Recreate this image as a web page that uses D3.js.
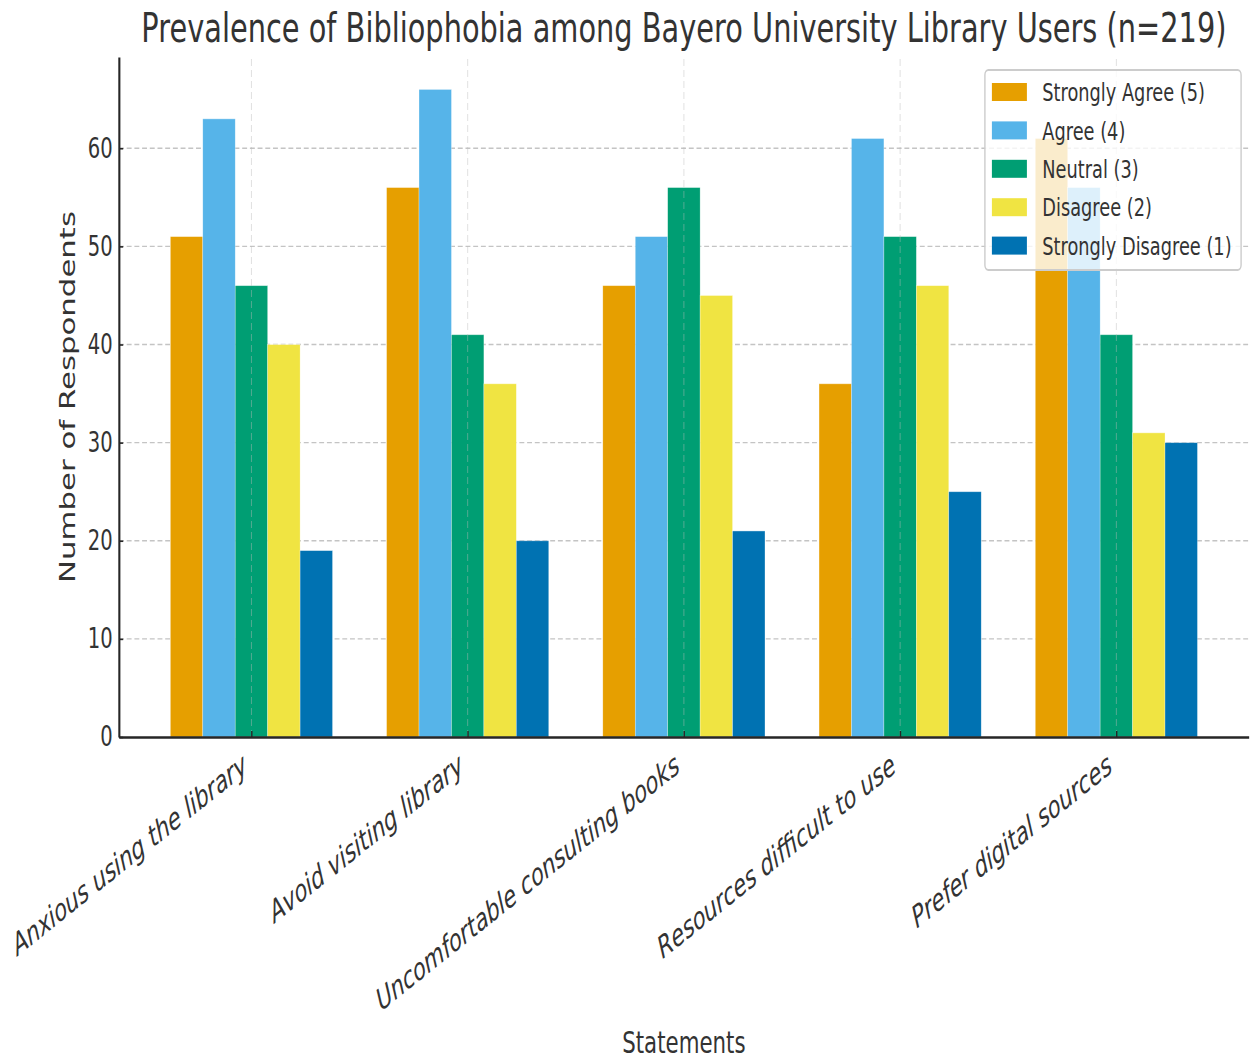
<!DOCTYPE html>
<html>
<head>
<meta charset="utf-8">
<script src="https://cdn.jsdelivr.net/npm/d3@7"></script>
<style>
  body { margin: 0; background: #fff; }
  svg { display: block; }
</style>
</head>
<body>
<div id="chart"></div>
<script>
// data
const statements = ["Anxious using the library", "Avoid visiting library", "Uncomfortable consulting books", "Resources difficult to use", "Prefer digital sources"]
const responses = ["Strongly Agree (5)", "Agree (4)", "Neutral (3)", "Disagree (2)", "Strongly Disagree (1)"]
const stronglyAgree = [51, 56, 46, 36, 61]
const agree = [63, 66, 51, 61, 56]
const neutral = [46, 41, 56, 51, 41]
const disagree = [40, 36, 45, 46, 31]
const stronglyDisagree = [19, 20, 21, 25, 30]
const yTicks = [0, 10, 20, 30, 40, 50, 60]
const colors = ["#E69F00", "#56B4E9", "#009E73", "#F0E442", "#0072B2"]

const series = [stronglyAgree, agree, neutral, disagree, stronglyDisagree]

// the reference is squeezed horizontally, so draw in a wider space and let the viewBox squash it
const width = 1251, height = 1059
const squeeze = 0.7
const innerW = width / squeeze
const margin = {top: 57, right: innerW - 1784, bottom: height - 737, left: 170}
const font = "'DejaVu Sans', sans-serif"
const textColor = "#333"

const svg = d3.select("#chart")
  .append("svg")
  .attr("width", width)
  .attr("height", height)
  .attr("viewBox", `0 0 ${innerW} ${height}`)
  .attr("preserveAspectRatio", "none")

const barW = 0.15
const xScale = d3.scaleLinear()
  .domain([-0.6125, statements.length - 1 + 0.6125])
  .range([margin.left, innerW - margin.right])
const yScale = d3.scaleLinear()
  .domain([0, 69.3])
  .range([height - margin.bottom, margin.top])

// horizontal grid (behind bars)
svg.append("g")
  .selectAll("line")
  .data(yTicks.slice(1))
  .enter()
  .append("line")
  .attr("x1", margin.left)
  .attr("x2", innerW - margin.right)
  .attr("y1", d => yScale(d))
  .attr("y2", d => yScale(d))
  .style("stroke", "#c4c4c4")
  .style("stroke-width", 1.4)
  .style("stroke-dasharray", "7,4")

// bars
series.forEach((vals, s) => {
  svg.append("g")
    .selectAll("rect")
    .data(vals)
    .enter()
    .append("rect")
    .attr("x", (d, i) => xScale(i + (s - 2.5) * barW))
    .attr("width", xScale(barW) - xScale(0))
    .attr("y", d => yScale(d))
    .attr("height", d => yScale(0) - yScale(d))
    .style("fill", colors[s])
    .style("stroke", "#fff")
    .style("stroke-opacity", 0.5)
    .style("stroke-width", 0.8)
})

// vertical grid (drawn over the bars, faint)
svg.append("g")
  .selectAll("line")
  .data(statements)
  .enter()
  .append("line")
  .attr("x1", (d, i) => xScale(i))
  .attr("x2", (d, i) => xScale(i))
  .attr("y1", yScale(0))
  .attr("y2", margin.top)
  .style("stroke", "#bbb")
  .style("stroke-opacity", 0.45)
  .style("stroke-width", 1.4)
  .style("stroke-dasharray", "7,4")

// left axis
const yAxis = svg.append("g")
  .attr("transform", `translate(${margin.left},0)`)
  .call(d3.axisLeft(yScale).tickValues(yTicks).tickSizeInner(-6).tickSizeOuter(0).tickPadding(9))
yAxis.select(".domain").style("stroke", "#262626").style("stroke-width", 3)
yAxis.selectAll(".tick line").style("stroke", "#262626").style("stroke-width", 1.6)
yAxis.selectAll(".tick text")
  .style("font-family", font)
  .style("font-size", "28px")
  .style("fill", textColor)

// bottom axis
const xAxis = svg.append("g")
  .attr("transform", `translate(0,${yScale(0)})`)
  .call(d3.axisBottom(xScale).tickValues(d3.range(statements.length)).tickSizeInner(-6).tickSizeOuter(0).tickFormat(""))
xAxis.select(".domain").style("stroke", "#262626").style("stroke-width", 2.5)
xAxis.selectAll(".tick line").style("stroke", "#262626").style("stroke-width", 2)

// rotated statement labels
svg.append("g")
  .selectAll("text")
  .data(statements)
  .enter()
  .append("text")
  .attr("transform", (d, i) => `translate(${xScale(i) - 4},${yScale(0) + 34}) rotate(-29.3)`)
  .attr("text-anchor", "end")
  .style("font-family", font)
  .style("font-style", "italic")
  .style("font-size", "30.4px")
  .style("fill", textColor)
  .text(d => d)

// Chart title
svg.append("text")
  .attr("x", (margin.left + innerW - margin.right) / 2)
  .attr("y", 42)
  .attr("text-anchor", "middle")
  .style("font-family", font)
  .style("font-size", "41.2px")
  .style("fill", textColor)
  .text("Prevalence of Bibliophobia among Bayero University Library Users (n=219)")

// X label
svg.append("text")
  .attr("x", (margin.left + innerW - margin.right) / 2)
  .attr("y", 1053)
  .attr("text-anchor", "middle")
  .style("font-family", font)
  .style("font-size", "30.5px")
  .style("fill", textColor)
  .text("Statements")

// Y label
svg.append("text")
  .attr("text-anchor", "middle")
  .attr("dominant-baseline", "central")
  .attr("transform", `translate(96,${(margin.top + height - margin.bottom) / 2}) rotate(-90)`)
  .style("font-family", font)
  .style("font-size", "30.8px")
  .style("fill", textColor)
  .text("Number of Respondents")

// legend
const legend = svg.append("g")
legend.append("rect")
  .attr("x", 1407)
  .attr("y", 70)
  .attr("width", 366)
  .attr("height", 200)
  .attr("rx", 5)
  .style("fill", "#fff")
  .style("fill-opacity", 0.8)
  .style("stroke", "#ccc")
  .style("stroke-width", 2)

const rows = legend.selectAll("g.item")
  .data(responses)
  .enter()
  .append("g")
  .attr("class", "item")
  .attr("transform", (d, i) => `translate(0,${92 + i * 38.4})`)
rows.append("rect")
  .attr("x", 1417)
  .attr("y", -9)
  .attr("width", 50)
  .attr("height", 18)
  .style("fill", (d, i) => colors[i])
rows.append("text")
  .attr("x", 1489)
  .attr("dy", "0.36em")
  .style("font-family", font)
  .style("font-size", "25.4px")
  .style("fill", textColor)
  .text(d => d)
</script>
</body>
</html>
